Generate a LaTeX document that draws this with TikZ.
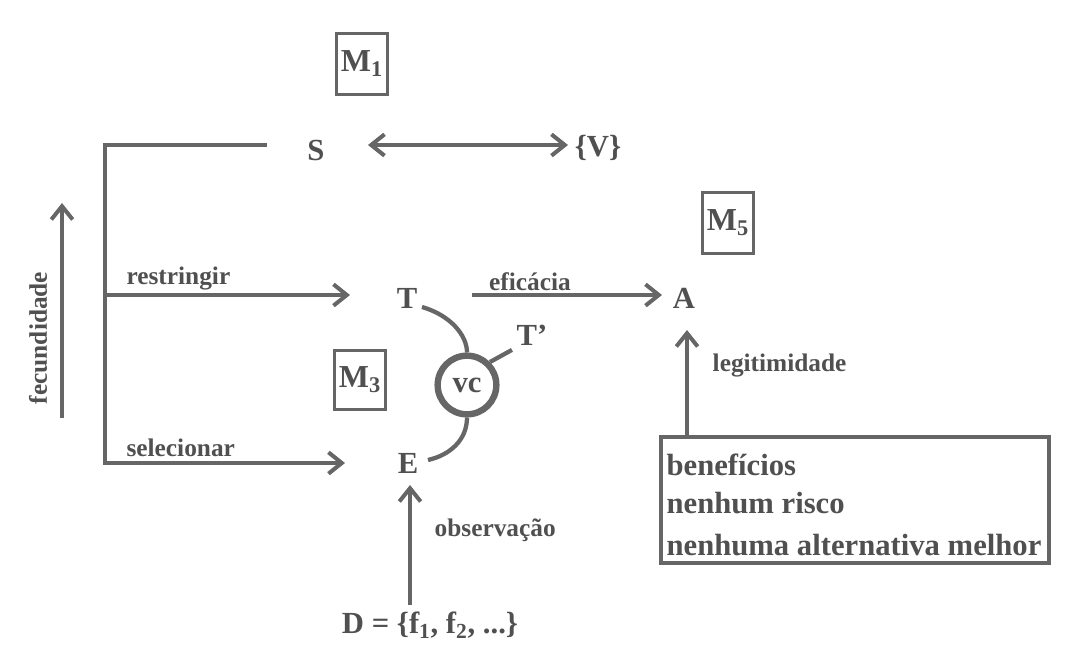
\documentclass[tikz,border=0pt]{standalone}
\usepackage{fontspec}
\setmainfont{Liberation Serif}
\usetikzlibrary{arrows.meta}
\definecolor{ink}{HTML}{505050}
\definecolor{lin}{HTML}{666666}
\begin{document}
\begin{tikzpicture}[x=0.75pt,y=-0.75pt,
  every node/.style={text=ink,font=\bfseries},
  big/.style={font=\bfseries\fontsize{23}{26}\selectfont},
  lbl/.style={font=\bfseries\fontsize{19}{22}\selectfont},
  mbox/.style={draw=lin,line width=2.2pt,minimum width=38pt,minimum height=46pt,inner sep=1pt,font=\bfseries\fontsize{24}{26}\selectfont},
  conn/.style={draw=lin,line width=3.2pt},
  tip/.style={Straight Barb[length=10pt,width=16pt,line width=3pt]},
  arr/.style={conn,-{Straight Barb[length=10pt,width=16pt,line width=3pt]}}]
\useasboundingbox (0,0) rectangle (1078,662);
\fill[white] (0,0) rectangle (1078,662);
% nodes
\node[mbox] (m1) at (362,64) {M\textsubscript{1}};
\node[mbox] (m5) at (728,223) {M\textsubscript{5}};
\node[mbox,minimum height=44pt] (m3) at (360,380) {M\textsubscript{3}};
\node[big] (S) at (316,150) {S};
\node[big] (V) at (598,148) {\{V\}};
\node[big] (T) at (407,298) {T};
\node[big] (E) at (408,463) {E};
\node[big] (A) at (684,298) {A};
\node[big] (D) at (430,625) {D = \{f\textsubscript{1}, f\textsubscript{2}, ...\}};
\node[big] (Tp) at (532,335) {T'};
\node[circle,draw=lin,line width=4.8pt,minimum size=44pt,inner sep=0pt,font=\bfseries\fontsize{23}{26}\selectfont] (vc) at (467,385) {vc};
% bracket
\coordinate (btop) at (105,145);
\coordinate (bend) at (265,145);
\coordinate (bmid) at (105,295);
\coordinate (bbot) at (105,463);
\draw[conn,line cap=rect] (bend) -- (btop) -- (bbot);
\draw[arr] (bmid) -- (350,295) coordinate (rend);
\draw[arr] (bbot) -- (345,463) coordinate (send);
\node[lbl,anchor=south west,inner sep=1pt] (lr) at (125,292) {restringir};
\node[lbl,anchor=south west,inner sep=1pt] (ls) at (125,458) {selecionar};
% fecundidade
\coordinate (f0) at (62,418);
\coordinate (f1) at (62,203);
\draw[arr] (f0) -- (f1);
\node[lbl,rotate=90] (lf) at (38,338) {fecundidade};
% S <-> V
\coordinate (sv0) at (368,145);
\coordinate (sv1) at (568,145);
\draw[conn,{Straight Barb[length=10pt,width=16pt,line width=3pt]}-{Straight Barb[length=10pt,width=16pt,line width=3pt]}] (sv0) -- (sv1);
% eficacia
\coordinate (ef0) at (472,295);
\coordinate (ef1) at (662,295);
\draw[arr] (ef0) -- (ef1);
\node[lbl,anchor=south,inner sep=1pt] (le) at (530,292) {eficácia};
% curves T - vc - E
\draw[conn] (422,307) .. controls (450,315) and (467,335) .. (vc.north);
\draw[conn] (vc.south) .. controls (467,440) and (450,455) .. (428,460);
\draw[conn] (vc.45) -- (Tp.south west);
% legitimidade
\node[draw=lin,line width=3pt,minimum width=291pt,minimum height=94pt] (box) at (855,500) {};
\node[big,anchor=west,inner sep=1pt] (b1) at (665,465) {benefícios};
\node[big,anchor=west,inner sep=1pt] (b2) at (665,503) {nenhum risco};
\node[big,anchor=west,inner sep=1pt] (b3) at (665,545) {nenhuma alternativa melhor};
\coordinate (lg0) at (687,437);
\coordinate (lg1) at (687,330);
\draw[arr] (lg0) -- (lg1);
\node[lbl,anchor=west] (ll) at (708,365) {legitimidade};
% observacao
\coordinate (ob0) at (410,605);
\coordinate (ob1) at (410,485);
\draw[arr] (ob0) -- (ob1);
\node[lbl,anchor=west] (lo) at (430,530) {observação};
\end{tikzpicture}
\end{document}
